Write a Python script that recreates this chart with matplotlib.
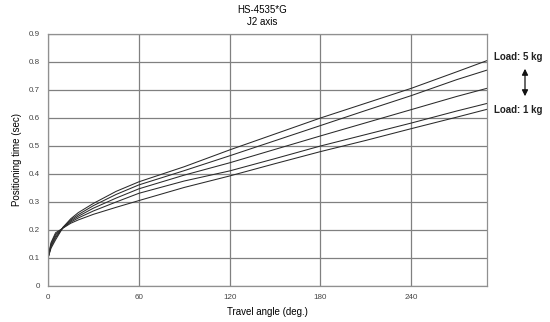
import matplotlib
matplotlib.use("Agg")
import matplotlib.pyplot as plt

plt.rcParams['font.family'] = ['Liberation Sans', 'DejaVu Sans']

# travel angle (deg.)
angle = [0, 2, 5, 10, 15, 20, 30, 45, 60, 90, 120, 150, 180, 210, 240, 270, 290]

# positioning time (sec), from heaviest load (top at the right) to lightest
load_5 = [0.100, 0.135, 0.165, 0.210, 0.240, 0.262, 0.295, 0.338, 0.372, 0.426, 0.486, 0.543, 0.600, 0.653, 0.706, 0.765, 0.805]
load_4 = [0.100, 0.140, 0.172, 0.210, 0.236, 0.255, 0.287, 0.327, 0.361, 0.412, 0.465, 0.519, 0.573, 0.627, 0.680, 0.737, 0.771]
load_3 = [0.100, 0.145, 0.178, 0.209, 0.232, 0.249, 0.278, 0.314, 0.347, 0.396, 0.440, 0.488, 0.536, 0.583, 0.630, 0.677, 0.706]
load_2 = [0.100, 0.150, 0.184, 0.208, 0.228, 0.243, 0.268, 0.300, 0.331, 0.375, 0.411, 0.455, 0.500, 0.541, 0.582, 0.625, 0.652]
load_1 = [0.100, 0.155, 0.190, 0.207, 0.224, 0.236, 0.256, 0.281, 0.305, 0.352, 0.393, 0.437, 0.480, 0.520, 0.562, 0.603, 0.631]

x_ticks = [0, 60, 120, 180, 240]
y_ticks = [0, 0.1, 0.2, 0.3, 0.4, 0.5, 0.6, 0.7, 0.8, 0.9]
y_labels = ['0', '0.1', '0.2', '0.3', '0.4', '0.5', '0.6', '0.7', '0.8', '0.9']

fig = plt.figure(figsize=(5.5, 3.22), dpi=100)
ax = fig.add_axes([48 / 550, 1 - 286 / 322, (487 - 48) / 550, (286 - 34) / 322])

for y in [load_5, load_4, load_3, load_2, load_1]:
    ax.plot(angle, y, color='#2a2a2a', lw=0.75)

ax.set_xlim(0, 290)
ax.set_ylim(0, 0.9)
ax.set_xticks(x_ticks)
ax.set_yticks(y_ticks)
ax.set_yticklabels(y_labels)
ax.tick_params(length=0, labelsize=5.8, labelcolor='#444444', pad=6)
ax.grid(True, color='#808080', lw=0.9)
ax.set_axisbelow(True)
for s in ax.spines.values():
    s.set_color('#909090')
    s.set_linewidth(0.9)

ax.set_xlabel('Travel angle (deg.)', fontsize=7, labelpad=4)
ax.set_ylabel('Positioning time (sec)', fontsize=7, labelpad=5)

fig.text(262 / 550, 1 - 10 / 322, 'HS-4535*G', ha='center', va='center', fontsize=7)
fig.text(262 / 550, 1 - 22 / 322, 'J2 axis', ha='center', va='center', fontsize=7)

fig.text(494 / 550, 1 - 57 / 322, 'Load: 5 kg', ha='left', va='center', fontsize=7, fontweight='bold', color='#222222')
fig.text(494 / 550, 1 - 110 / 322, 'Load: 1 kg', ha='left', va='center', fontsize=7, fontweight='bold', color='#222222')
fig.patches.append(matplotlib.patches.FancyArrowPatch(
    (525 / 550, 1 - 66 / 322), (525 / 550, 1 - 99 / 322), transform=fig.transFigure,
    arrowstyle='<|-|>', mutation_scale=9, color='#111111', lw=0.9))

fig.savefig('out.png', dpi=100)
